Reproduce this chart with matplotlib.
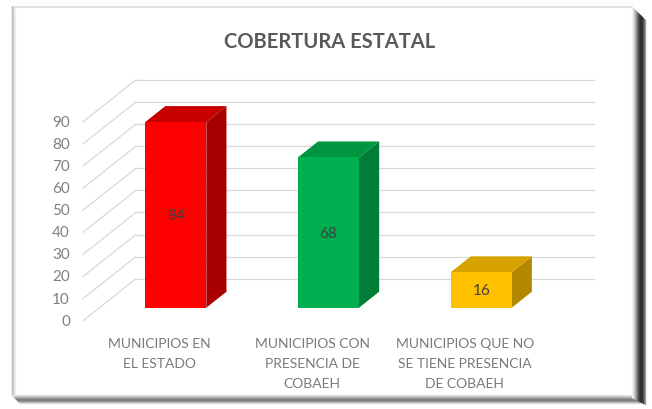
import matplotlib
matplotlib.use("Agg")
import matplotlib.pyplot as plt
from matplotlib.patches import Polygon

# data
categories = ["MUNICIPIOS EN\nEL ESTADO",
              "MUNICIPIOS CON\nPRESENCIA DE\nCOBAEH",
              "MUNICIPIOS QUE NO\nSE TIENE PRESENCIA\nDE COBAEH"]
values = [84, 68, 16]
front_colors = ["#FF0000", "#00B050", "#FFC000"]
top_colors = ["#C80000", "#00953F", "#D6A200"]
side_colors = ["#A60000", "#007D36", "#B38700"]
yticks = [0, 10, 20, 30, 40, 50, 60, 70, 80, 90]

plt.rcParams['font.family'] = ['Lato', 'DejaVu Sans']

W, H = 652, 410
fig = plt.figure(figsize=(W / 100, H / 100), dpi=100)

# frame layer in pixel coords
fr = fig.add_axes([0, 0, 1, 1], zorder=0)
fr.set_xlim(0, W)
fr.set_ylim(H, 0)
fr.axis("off")
# top and left thin edges
fr.plot([12, 632], [8, 8], color="#dcdcdc", lw=1.2)
for k, g in enumerate([0.72, 0.8, 0.88, 0.94]):
    fr.plot([12 + k, 12 + k], [8 + k, 396], color=str(g), lw=1)
# bottom shadow
for k, g in enumerate([0.9, 0.82, 0.72, 0.6, 0.5, 0.48, 0.55, 0.7, 0.85]):
    fr.plot([12 + k, 640], [396 + k, 396 + k], color=str(g), lw=1)
# right shadow
for k, g in enumerate([0.96, 0.9, 0.82, 0.72, 0.6, 0.48, 0.36, 0.26, 0.2, 0.18, 0.2, 0.28, 0.42, 0.6]):
    fr.plot([632 + k, 632 + k], [8 + k, 398 + k * 0.5], color=str(g), lw=1)

# chart layer: x in category units, y in value units
ax = fig.add_axes([0, 0, 1, 1], zorder=1)
ax.patch.set_alpha(0)
ax.axis("off")
X0, XS = 83.0, 152.7      # pixel x of category 0, pixels per category
Y0, YS = 321.7, 2.21      # pixel y of value 0, pixels per unit
ax.set_xlim(-X0 / XS, (W - X0) / XS)
ax.set_ylim((Y0 - H) / YS, Y0 / YS)
DX, DY = 53.0 / XS, 42.0 / YS   # full depth offset
n = len(values)


def P(x, v, d):
    return (x + d * DX, v + d * DY)


grid_c = "#d9d9d9"
for t in yticks:
    ax.plot(*zip(P(0, t, 0), P(0, t, 1)), color=grid_c, lw=0.9)
    ax.plot(*zip(P(0, t, 1), P(n, t, 1)), color=grid_c, lw=0.9)
    ax.text(-13 / XS, t, str(t), ha="right", va="center", fontsize=11, color="#808080")

d0, d1 = 0.31, 0.69
bw = 0.4
for i, v in enumerate(values):
    xl, xr = i + 0.5 - bw / 2, i + 0.5 + bw / 2
    front = [P(xl, 0, d0), P(xr, 0, d0), P(xr, v, d0), P(xl, v, d0)]
    top = [P(xl, v, d0), P(xr, v, d0), P(xr, v, d1), P(xl, v, d1)]
    side = [P(xr, 0, d0), P(xr, 0, d1), P(xr, v, d1), P(xr, v, d0)]
    ax.add_patch(Polygon(side, closed=True, fc=side_colors[i], ec="none", zorder=3))
    ax.add_patch(Polygon(top, closed=True, fc=top_colors[i], ec="none", zorder=3))
    ax.add_patch(Polygon(front, closed=True, fc=front_colors[i], ec="none", zorder=4))
    cx, cy = P(i + 0.5, v / 2, d0)
    ax.text(cx, cy, str(v), ha="center", va="center", fontsize=11, color="#404040", zorder=5)
    ax.text(i + 0.5, -16 / YS, categories[i], ha="center", va="top", fontsize=10,
            color="#7a7a7a", linespacing=1.8)

fig.text(330 / W, 1 - 42 / H, "COBERTURA ESTATAL", ha="center", va="center",
         fontsize=14.5, fontweight="bold", color="#595959")

fig.savefig("out.png", dpi=100, facecolor="white")
